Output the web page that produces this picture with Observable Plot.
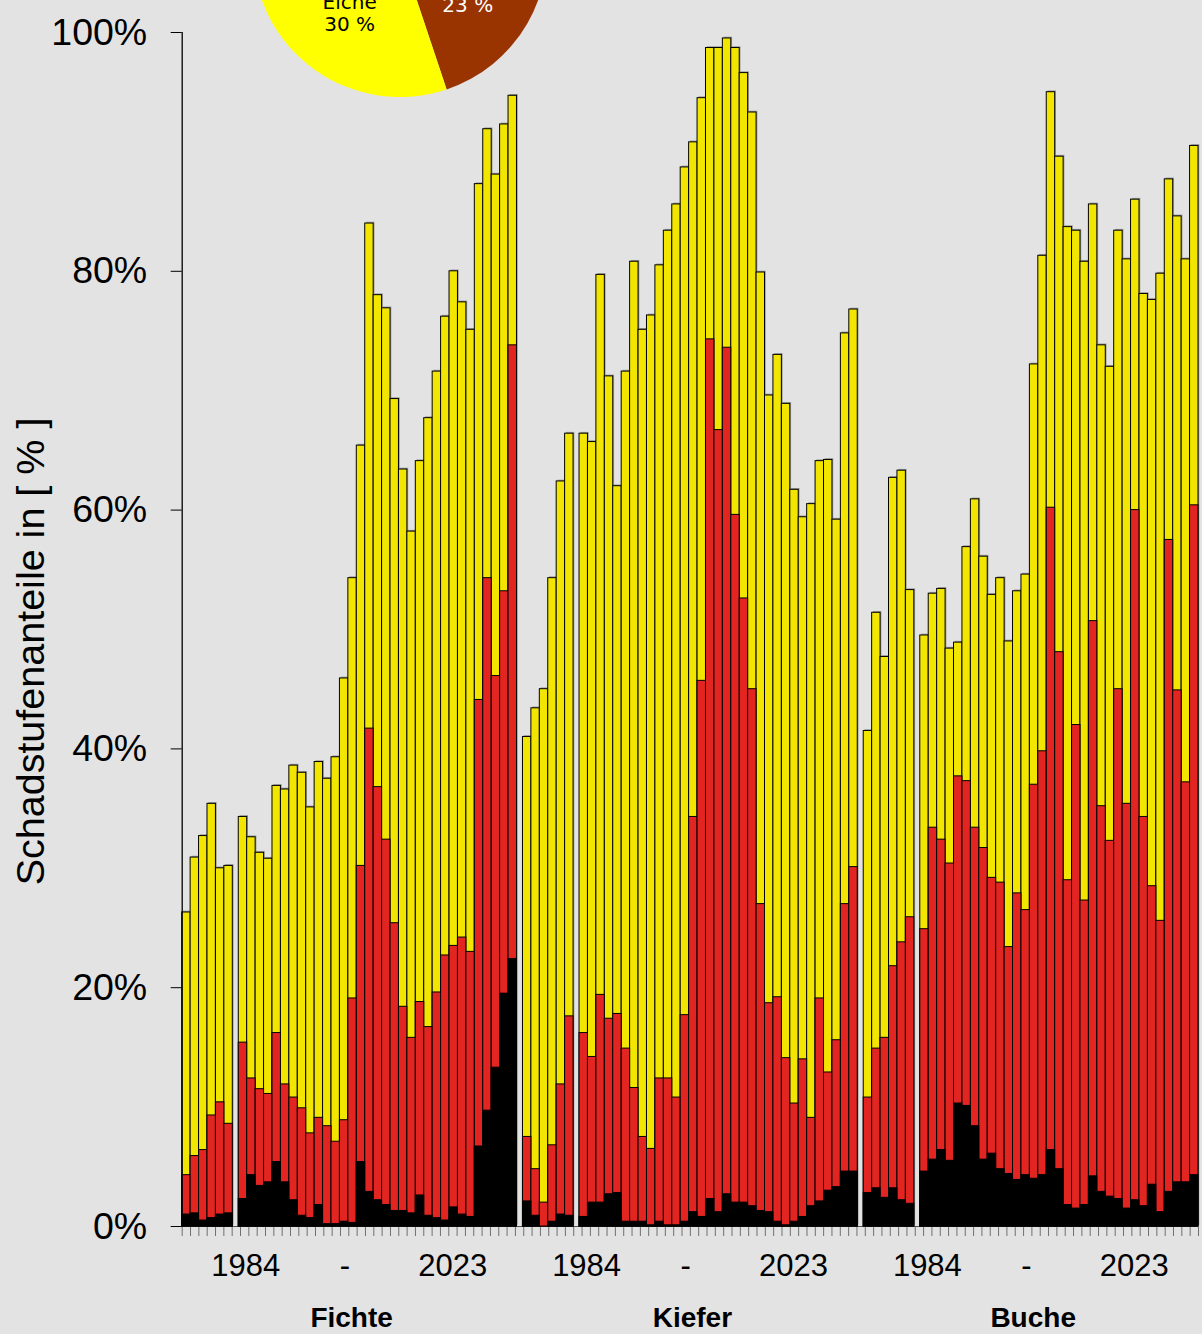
<!DOCTYPE html>
<html>
<head>
<meta charset="utf-8">
<script src="https://cdn.jsdelivr.net/npm/d3@7"></script>
<script src="https://cdn.jsdelivr.net/npm/@observablehq/plot@0.6"></script>
<style>
  html, body { margin: 0; padding: 0; background: #e3e3e3; }
  #chart { width: 1202px; height: 1334px; overflow: hidden; position: relative; }
  #chart svg { display: block; }
</style>
</head>
<body>
<div id="chart"></div>
<script>
// ---------------- data ----------------
const species = ["Fichte", "Kiefer", "Buche"];
const years = [1984, 1985, 1986, 1987, 1988, 1989,
  1991, 1992, 1993, 1994, 1995, 1996, 1997, 1998, 1999, 2000, 2001, 2002, 2003, 2004,
  2005, 2006, 2007, 2008, 2009, 2010, 2011, 2012, 2013, 2014, 2015, 2016, 2017, 2018,
  2019, 2020, 2021, 2022, 2023];

// share of trees in damage classes 1-4 (top of yellow), 2-4 (top of red), 3-4 (black), in %
const fichteStufe14 = [26.3, 30.9, 32.7, 35.4, 30.0, 30.2, 34.3, 32.6, 31.3, 30.8, 36.9, 36.6, 38.6, 38.0, 35.1, 38.9, 37.5, 39.3, 45.9, 54.3, 65.4, 84.0, 78.0, 76.9, 69.3, 63.4, 58.2, 64.1, 67.7, 71.6, 76.2, 80.0, 77.4, 75.1, 87.3, 91.9, 88.1, 92.3, 94.7];
const fichteStufe24 = [4.3, 5.9, 6.4, 9.3, 10.4, 8.6, 15.4, 12.4, 11.5, 11.1, 16.2, 11.9, 10.8, 9.9, 7.8, 9.1, 8.4, 7.1, 8.9, 19.1, 30.2, 41.7, 36.8, 32.4, 25.4, 18.4, 15.8, 18.8, 16.7, 19.6, 22.7, 23.5, 24.2, 23.0, 44.1, 54.3, 46.1, 53.2, 73.8];
const fichteStufe34 = [1.0, 1.1, 0.5, 0.7, 1.0, 1.1, 2.3, 4.3, 3.4, 3.7, 5.4, 3.7, 2.2, 0.9, 0.7, 1.8, 0.2, 0.2, 0.4, 0.3, 5.4, 2.9, 2.2, 1.8, 1.3, 1.3, 1.1, 2.6, 0.9, 0.7, 0.5, 1.6, 1.0, 0.8, 6.7, 9.7, 13.3, 19.5, 22.4];

const kieferStufe14 = [41.0, 43.4, 45.0, 54.3, 62.4, 66.4, 66.4, 65.7, 79.7, 71.2, 62.0, 71.6, 80.8, 75.1, 76.3, 80.5, 83.4, 85.6, 88.7, 90.8, 94.5, 98.7, 98.7, 99.5, 98.7, 96.6, 93.3, 79.9, 69.6, 73.0, 68.9, 61.7, 59.4, 60.5, 64.1, 64.2, 59.2, 74.8, 76.8];
const kieferStufe24 = [7.5, 4.8, 2.0, 6.8, 11.9, 17.6, 16.2, 14.2, 19.4, 17.4, 17.8, 14.9, 11.6, 7.5, 6.5, 12.4, 12.4, 10.8, 17.7, 34.3, 45.7, 74.3, 66.7, 73.6, 59.6, 52.6, 45.0, 27.0, 18.7, 19.2, 14.1, 10.3, 14.0, 9.1, 19.1, 12.9, 15.6, 27.0, 30.1];
const kieferStufe34 = [2.1, 0.9, 0.0, 0.4, 1.0, 0.9, 0.8, 2.0, 2.0, 2.7, 2.8, 0.4, 0.4, 0.4, 0.1, 0.4, 0.1, 0.1, 0.4, 1.2, 0.8, 2.3, 1.2, 2.7, 2.0, 2.0, 1.7, 1.3, 1.2, 0.4, 0.1, 0.4, 0.8, 1.7, 2.1, 3.0, 3.3, 4.6, 4.6];

const bucheStufe14 = [41.5, 51.4, 47.7, 62.7, 63.3, 53.3, 49.5, 53.0, 53.4, 48.4, 48.9, 56.9, 60.9, 56.1, 52.9, 54.3, 49.0, 53.2, 54.6, 72.2, 81.3, 95.0, 89.6, 83.7, 83.4, 80.8, 85.6, 73.8, 72.0, 83.4, 81.0, 86.0, 78.1, 77.6, 79.8, 87.7, 84.6, 81.0, 90.5];
const bucheStufe24 = [10.8, 14.9, 15.8, 21.8, 23.8, 25.9, 24.9, 33.4, 32.4, 30.4, 37.7, 37.3, 33.4, 31.7, 29.2, 28.8, 23.4, 27.9, 26.5, 37.0, 39.8, 60.2, 48.1, 29.0, 42.0, 27.3, 50.7, 35.2, 32.3, 45.0, 35.4, 60.0, 34.3, 28.5, 25.6, 57.5, 44.9, 37.2, 60.4];
const bucheStufe34 = [2.8, 3.2, 2.4, 3.2, 2.2, 1.9, 4.6, 5.6, 6.4, 5.5, 10.3, 10.1, 8.4, 5.6, 6.1, 4.8, 4.4, 3.9, 4.3, 4.0, 4.3, 6.4, 4.8, 1.8, 1.5, 1.8, 4.2, 2.9, 2.5, 2.3, 1.5, 2.2, 1.7, 3.5, 1.2, 2.9, 3.7, 3.7, 4.3];

const yTicks = [0, 20, 40, 60, 80, 100];
const periodLabels = ["1984", "-", "2023"];
const yTitle = "Schadstufenanteile in [ % ]";

const pieNames = ["", "Eiche"];
const pieShares = [23, 30];

// ---------------- styling / layout ----------------
const colStufe1 = "#f2e600";
const colStufe2 = "#e32522";
const colStufe34 = "#000000";
const pieColors = ["#993300", "#ffff00"];
const pieTextColors = ["#ffffff", "#000000"];

const GAP = 0.71;                    // width of a gap, in bar widths
const nYears = years.length;         // 39
const breakIndex = 6;                // gap after 1989
const groupStride = nYears + 2 * GAP;
const TOTAL = species.length * nYears + (2 * species.length - 1) * GAP;
const groupStart = s => s * groupStride;
const barPos = (s, i) => groupStart(s) + (i < breakIndex ? i : i + GAP);

const seriesBySpecies = [
  [fichteStufe14, fichteStufe24, fichteStufe34],
  [kieferStufe14, kieferStufe24, kieferStufe34],
  [bucheStufe14, bucheStufe24, bucheStufe34]
];

const rows = [];
species.forEach((sp, s) => {
  years.forEach((yr, i) => {
    rows.push({
      species: sp, year: yr,
      x1: barPos(s, i), x2: barPos(s, i) + 1,
      s14: seriesBySpecies[s][0][i],
      s24: seriesBySpecies[s][1][i],
      s34: seriesBySpecies[s][2][i]
    });
  });
});

const periodOffsets = [7.55, 19.3, 32.1];
const periodRows = [];
species.forEach((sp, s) => periodLabels.forEach((t, k) => periodRows.push({x: groupStart(s) + periodOffsets[k], text: t})));
const speciesRows = species.map((sp, s) => ({x: groupStart(s) + 20.1, text: sp}));

const xTickPositions = d3.range(123).map(k => k * TOTAL / 122);

// pie (partly outside the top of the picture)
const pieCx = 400, pieCy = -50, pieR = 147;
const pieStart = 78.7 * Math.PI / 180;
const labelTurn = 3 * Math.PI / 180;
function pieMark() {
  const g = d3.create("svg:g").attr("transform", `translate(${pieCx},${pieCy})`);
  const arcs = d3.pie().sort(null).value(d => d)
    .startAngle(pieStart)
    .endAngle(pieStart + 2 * Math.PI * d3.sum(pieShares) / 100)(pieShares);
  const arc = d3.arc().innerRadius(0).outerRadius(pieR);
  const rl = pieR * 0.55;
  const centroid = d => {
    const a = (d.startAngle + d.endAngle) / 2 + labelTurn;
    return [rl * Math.sin(a), -rl * Math.cos(a)];
  };
  g.selectAll("path").data(arcs).join("path")
    .attr("d", arc).attr("fill", (d, i) => pieColors[i]);
  const t = g.selectAll("text.lbl").data(arcs).join("text")
    .attr("transform", d => `translate(${centroid(d)})`)
    .attr("text-anchor", "middle")
    .attr("font-family", "DejaVu Sans, Verdana, sans-serif")
    .attr("font-size", 20)
    .attr("fill", (d, i) => pieTextColors[i]);
  t.append("tspan").attr("x", 0).attr("y", -4).text((d, i) => pieNames[i]);
  t.append("tspan").attr("x", 0).attr("y", 18).text((d, i) => pieShares[i] + " %");
  return g.node();
}

const chart = Plot.plot({
  width: 1202,
  height: 1334,
  marginLeft: 181.7,
  marginRight: 4,
  marginTop: 32,
  marginBottom: 108,
  style: {background: "transparent", color: "black", fontFamily: "Liberation Sans, Arial, sans-serif", overflow: "hidden"},
  x: {type: "linear", domain: [0, TOTAL], axis: null},
  y: {domain: [0, 100], axis: null},
  marks: [
    Plot.ruleY([0], {stroke: "#555", strokeWidth: 1}),
    // faint shadow of the bars
    Plot.rect(rows, {x1: "x1", x2: "x2", y1: d => 0, y2: "s14", fill: "#555", fillOpacity: 0.5, dx: 1.3, dy: -1.3}),
    Plot.rect(rows, {x1: "x1", x2: "x2", y1: d => 0, y2: "s14", fill: colStufe1, stroke: "black", strokeWidth: 1}),
    Plot.rect(rows, {x1: "x1", x2: "x2", y1: d => 0, y2: "s24", fill: colStufe2, stroke: "black", strokeWidth: 1}),
    Plot.rect(rows, {x1: "x1", x2: "x2", y1: d => 0, y2: "s34", fill: colStufe34, stroke: "black", strokeWidth: 1}),
    Plot.ruleX([0], {stroke: "black", strokeWidth: 1.3}),
    Plot.axisY({ticks: yTicks, tickSize: 11, tickPadding: 24, tickFormat: d => d + "%", fontSize: 37.5, label: null, stroke: "black"}),
    Plot.axisX({ticks: xTickPositions, tickSize: 9, tickFormat: () => "", label: null, stroke: "#707070", dy: 1}),
    Plot.text(periodRows, {x: "x", text: "text", frameAnchor: "bottom", lineAnchor: "middle", dy: 40, fontSize: 31, fill: "black"}),
    Plot.text(speciesRows, {x: "x", text: "text", frameAnchor: "bottom", lineAnchor: "middle", dy: 92, fontSize: 28, fontWeight: "bold", fill: "black"}),
    Plot.text([yTitle], {text: d => d, frameAnchor: "left", textAnchor: "middle", lineAnchor: "middle", dx: -151, dy: 22, rotate: -90, fontSize: 39.5, fill: "black"}),
    pieMark
  ]
});

document.getElementById("chart").appendChild(chart);
</script>
</body>
</html>
